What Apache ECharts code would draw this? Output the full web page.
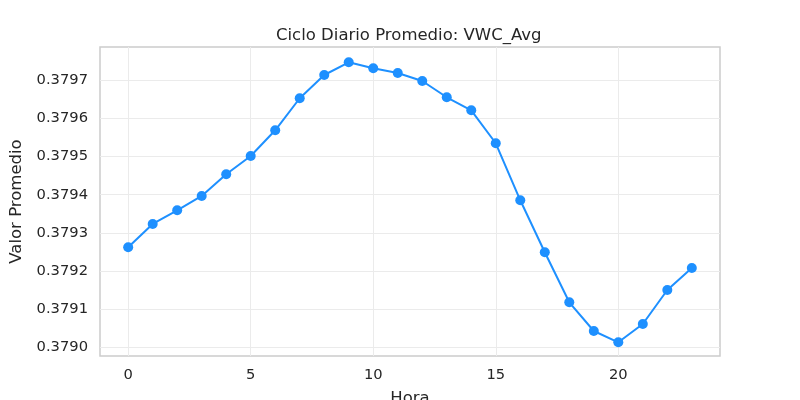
<!DOCTYPE html>
<html lang="es">
<head>
    <meta charset="UTF-8">
    <title>Ciclo Diario Promedio</title>
</head>
<body style="margin: 0; background: #fff">
    <div id="container" style="width: 800px; height: 400px"></div>
    <script src="https://cdn.jsdelivr.net/npm/echarts@6/dist/echarts.min.js"></script>
    <script type="text/javascript">
        // horas del día y promedio de VWC_Avg
        var horas = [0, 1, 2, 3, 4, 5, 6, 7, 8, 9, 10, 11, 12, 13, 14, 15, 16, 17, 18, 19, 20, 21, 22, 23];
        var valores = [
            0.3792622, 0.3793233, 0.3793592, 0.3793967, 0.3794536, 0.3795016,
            0.3795690, 0.3796529, 0.3797139, 0.3797472, 0.3797315, 0.3797192,
            0.3796982, 0.3796555, 0.3796214, 0.3795349, 0.3793854, 0.3792491,
            0.3791180, 0.3790427, 0.3790131, 0.3790611, 0.3791502, 0.3792079
        ];
        var xTicks = [0, 5, 10, 15, 20];
        var yTicks = [0.3790, 0.3791, 0.3792, 0.3793, 0.3794, 0.3795, 0.3796, 0.3797];

        var dom = document.getElementById('container');
        var myChart = echarts.init(dom);
        var fuente = 'DejaVu Sans';
        var colorTexto = '#262626';

        var option = {
            animation: false,
            title: {
                text: 'Ciclo Diario Promedio: VWC_Avg',
                left: 271,
                top: 22,
                textStyle: { fontFamily: fuente, fontSize: 16.5, fontWeight: 'normal', color: colorTexto }
            },
            grid: {
                left: 100, right: 80, top: 47, bottom: 44,
                containLabel: false,
                outerBoundsMode: 'none',
                show: true,
                borderColor: '#cccccc',
                borderWidth: 1.5,
                backgroundColor: '#fff'
            },
            xAxis: {
                type: 'value',
                min: -1.15,
                max: 24.15,
                name: 'Hora',
                nameLocation: 'middle',
                nameGap: 34,
                nameTextStyle: { fontFamily: fuente, fontSize: 16.5, color: colorTexto },
                axisLine: { show: false },
                axisTick: { show: false, customValues: xTicks },
                axisLabel: {
                    customValues: xTicks,
                    fontFamily: fuente, fontSize: 14.7, color: colorTexto, margin: 12
                },
                splitLine: { show: true, lineStyle: { color: '#ebebeb', width: 1 } }
            },
            yAxis: {
                type: 'value',
                min: 0.3789772,
                max: 0.3797873,
                name: 'Valor Promedio',
                nameLocation: 'middle',
                nameGap: 74,
                nameTextStyle: { fontFamily: fuente, fontSize: 16.5, color: colorTexto },
                axisLine: { show: false },
                axisTick: { show: false, customValues: yTicks },
                axisLabel: {
                    customValues: yTicks,
                    fontFamily: fuente, fontSize: 14.7, color: colorTexto, margin: 12,
                    formatter: function (v) { return v.toFixed(4); }
                },
                splitLine: { show: true, lineStyle: { color: '#ebebeb', width: 1 } }
            },
            series: [
                {
                    type: 'line',
                    data: horas.map(function (h, i) { return [h, valores[i]]; }),
                    symbol: 'circle',
                    symbolSize: 10,
                    itemStyle: { color: '#1e90ff' },
                    lineStyle: { color: '#1e90ff', width: 2 }
                }
            ]
        };
        myChart.setOption(option);
    </script>
</body>
</html>
